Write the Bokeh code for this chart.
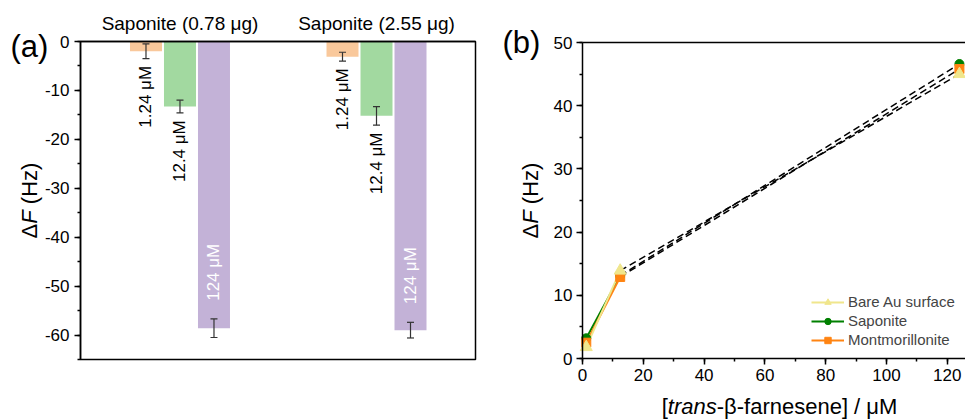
import math
from bokeh.plotting import figure
from bokeh.layouts import row
from bokeh.models import (Range1d, LinearAxis, SingleIntervalTicker, FixedTicker,
                          PrintfTickFormatter, ColumnDataSource, Whisker, TeeHead,
                          Label, Legend, LegendItem)
from bokeh.core.properties import value
from bokeh.embed import file_html
from bokeh.resources import INLINE

FONT = "Liberation Sans"

# ---------------- data: panel (a) ----------------
groups = ["Saponite (0.78 μg)", "Saponite (2.55 μg)"]
conc_labels = ["1.24 μM", "12.4 μM", "124 μM"]
bar_colors = ["#F9C89B", "#A2D9A0", "#C3B2D7"]
df_sap_078 = [-2.0, -13.3, -58.6]
err_sap_078 = [1.5, 1.3, 1.9]
df_sap_255 = [-3.1, -15.2, -59.0]
err_sap_255 = [0.9, 1.9, 1.6]

# ---------------- data: panel (b) ----------------
conc_uM = [1.24, 12.4, 124]
df_bare = [1.8, 13.9, 45.0]
df_sap = [3.2, 13.1, 46.6]
df_mont = [2.5, 12.9, 45.8]
series_names = ["Bare Au surface", "Saponite", "Montmorillonite"]
series_colors = ["#F0E68C", "#008000", "#FF8412"]
series_markers = ["triangle", "circle", "square"]
series_sizes = [12, 9, 9]

# ---------------- layout constants ----------------
P1_W, P1_H = 490, 420
P1_L, P1_R, P1_T, P1_B = 80, 15, 41, 61          # where the drawn frame sits
F1_W, F1_H = P1_W - P1_L - P1_R, P1_H - P1_T - P1_B
UNIT_PX = 34.0
X1S = -1.926
X1E = X1S + F1_W / UNIT_PX
Y1S, Y1E = -65, 0
PPY1 = F1_H / (Y1E - Y1S)
GROUP_STEP = 5.78
BAR_W = 32 / UNIT_PX
X1_LO, X1_HI = X1S - P1_L / UNIT_PX, X1E + P1_R / UNIT_PX
Y1_LO, Y1_HI = Y1S - P1_B / PPY1, Y1E + P1_T / PPY1

P2_W, P2_H = 475, 420
P2_L, P2_R, P2_T, P2_B = 92, 0, 42, 62
F2_W, F2_H = P2_W - P2_L - P2_R, P2_H - P2_T - P2_B
X2S, X2E = 0, 126
Y2S, Y2E = 0, 50
PPX2 = F2_W / (X2E - X2S)
PPY2 = F2_H / (Y2E - Y2S)
X2_LO, X2_HI = X2S - P2_L / PPX2, X2E + P2_R / PPX2
Y2_LO, Y2_HI = Y2S - P2_B / PPY2, Y2E + P2_T / PPY2


def d1(px, py):
    return X1_LO + px / UNIT_PX, Y1_HI - py / PPY1


def d2(px, py):
    return X2_LO + (px - P1_W) / PPX2, Y2_HI - py / PPY2


ADV = {' ': 278, '(': 333, ')': 333, '[': 278, ']': 278, '-': 333, '/': 278,
       'H': 722, 'z': 500, 'Δ': 668, 'F': 611, 'f': 278, 'a': 556, 'r': 333,
       'n': 556, 'e': 556, 's': 500, 'β': 574, 'μ': 576, 'M': 833, 't': 278}


def tw(s, size):
    return sum(ADV.get(ch, 556) for ch in s) / 1000.0 * size


def composite(p, segs, cx, cy, size, conv, vertical=False):
    total = sum(tw(t, size) for t, _ in segs)
    pos = -total / 2
    for t, style in segs:
        lead = len(t) - len(t.lstrip(' '))
        start = pos + tw(' ' * lead, size)
        if vertical:
            x, y = conv(cx, cy - start)
            ang = math.pi / 2
        else:
            x, y = conv(cx + start, cy)
            ang = 0
        p.add_layout(Label(x=x, y=y, x_units="data", y_units="data", text=t.strip(' '),
                           angle=ang, text_align="left", text_baseline="middle",
                           text_font=FONT, text_font_size=f"{size}px",
                           text_font_style=style, text_color="black"))
        pos += tw(t, size)


def style_axis(ax, size="17px"):
    ax.axis_line_color = "black"
    ax.axis_line_width = 1.5
    ax.major_tick_line_color = "black"
    ax.major_tick_line_width = 1.5
    ax.minor_tick_line_color = "black"
    ax.minor_tick_line_width = 1.5
    ax.major_tick_in = 0
    ax.major_tick_out = 6
    ax.minor_tick_in = 0
    ax.minor_tick_out = 3
    ax.major_label_text_font = FONT
    ax.major_label_text_font_size = size
    ax.major_label_text_color = "black"


def base_fig(w, h, xr, yr):
    p = figure(width=w, height=h, output_backend="svg", toolbar_location=None,
               x_range=xr, y_range=yr, x_axis_location=None, y_axis_location=None,
               min_border_left=0, min_border_right=0, min_border_top=0,
               min_border_bottom=0)
    p.grid.visible = False
    p.outline_line_color = None
    p.background_fill_color = "white"
    p.border_fill_color = "white"
    return p


# ======================= panel (a) =======================
p1 = base_fig(P1_W, P1_H, Range1d(X1_LO, X1_HI), Range1d(Y1_LO, Y1_HI))

vals_a = [df_sap_078, df_sap_255]
errs_a = [err_sap_078, err_sap_255]
xs, tops, cols, ups, los = [], [], [], [], []
lab_x, lab_y, lab_t = [], [], []
in_x, in_y, in_t = [], [], []
for gi in range(len(groups)):
    for bi in range(len(conc_labels)):
        x = gi * GROUP_STEP + bi
        v, e = vals_a[gi][bi], errs_a[gi][bi]
        xs.append(x); tops.append(v); cols.append(bar_colors[bi])
        ups.append(v + e); los.append(v - e)
        if bi < 2:
            lab_x.append(x); lab_y.append(v - e - 1.5); lab_t.append(conc_labels[bi])
        else:
            in_x.append(x); in_y.append(v + e + 3.7); in_t.append(conc_labels[bi])

src_bars = ColumnDataSource(dict(x=xs, top=tops, color=cols, upper=ups, lower=los))
p1.vbar(x="x", top="top", bottom=0, width=BAR_W, fill_color="color",
        line_color=None, source=src_bars)
p1.add_layout(Whisker(base="x", upper="upper", lower="lower", source=src_bars,
                      level="overlay", line_color="#333333", line_width=1.2,
                      upper_head=TeeHead(size=7, line_color="#333333", line_width=1.2),
                      lower_head=TeeHead(size=7, line_color="#333333", line_width=1.2)))

p1.text(x=lab_x, y=lab_y, text=lab_t, angle=math.pi / 2, text_align="right",
        text_baseline="middle", text_color="black", text_font=value(FONT),
        text_font_size="17px")
p1.text(x=in_x, y=in_y, text=in_t, angle=math.pi / 2, text_align="left",
        text_baseline="middle", text_color="white", text_font=value(FONT),
        text_font_size="17px")

# frame box of panel (a)
p1.quad(left=[X1S], right=[X1E], bottom=[Y1S], top=[Y1E], fill_color=None,
        line_color="black", line_width=1.5)

ya = LinearAxis(fixed_location=X1S, bounds=(Y1S, Y1E),
                ticker=SingleIntervalTicker(interval=10, num_minor_ticks=2),
                formatter=PrintfTickFormatter(format="%d"))
style_axis(ya)
ya.major_label_standoff = 5
p1.add_layout(ya, "left")

gcenters = [gi * GROUP_STEP + 1.0 for gi in range(len(groups))]
top_ax = LinearAxis(fixed_location=Y1E, bounds=(X1S, X1E),
                    ticker=FixedTicker(ticks=gcenters),
                    major_label_overrides={c: g for c, g in zip(gcenters, groups)})
style_axis(top_ax, "19px")
top_ax.major_tick_out = 0
top_ax.minor_tick_out = 0
top_ax.major_label_standoff = 8
p1.add_layout(top_ax, "above")

composite(p1, [("Δ", "normal"), ("F", "italic"), (" (Hz)", "normal")],
          28.5, 200, 22, d1, vertical=True)
xa, ya_ = d1(10, 46)
p1.add_layout(Label(x=xa, y=ya_, text="(a)", text_align="left", text_baseline="middle",
                    text_font=FONT, text_font_size="31px", text_color="black"))

# ======================= panel (b) =======================
p2 = base_fig(P2_W, P2_H, Range1d(X2_LO, X2_HI), Range1d(Y2_LO, Y2_HI))

vals_b = [df_bare, df_sap, df_mont]
order = [1, 2, 0]
for i in order:
    p2.line(conc_uM[1:], vals_b[i][1:], line_color="black", line_width=1.5,
            line_dash="7 4")
solid_r, mark_r = {}, {}
for i in order:
    solid_r[i] = p2.line(conc_uM[:2], vals_b[i][:2], line_color=series_colors[i],
                         line_width=2)
for i in order:
    mark_r[i] = p2.scatter(conc_uM, vals_b[i], marker=series_markers[i],
                           size=series_sizes[i], fill_color=series_colors[i],
                           line_color=series_colors[i])

xb = LinearAxis(fixed_location=Y2S, bounds=(X2S, X2E),
                ticker=SingleIntervalTicker(interval=20, num_minor_ticks=2))
style_axis(xb)
xb.major_label_standoff = 4
p2.add_layout(xb, "below")
yb = LinearAxis(fixed_location=X2S, bounds=(Y2S, Y2E),
                ticker=SingleIntervalTicker(interval=10, num_minor_ticks=2))
style_axis(yb)
yb.major_label_standoff = 4
p2.add_layout(yb, "left")
top_b = LinearAxis(fixed_location=Y2E, bounds=(X2S, X2E), ticker=FixedTicker(ticks=[]))
style_axis(top_b)
top_b.major_label_text_font_size = "0px"
p2.add_layout(top_b, "above")

legend = Legend(items=[LegendItem(label=series_names[i], renderers=[solid_r[i], mark_r[i]])
                       for i in range(3)],
                location=(321, 72), border_line_color=None,
                background_fill_alpha=0, label_text_font=FONT,
                label_text_font_size="15px", glyph_width=33, glyph_height=16,
                label_height=16, label_standoff=4, spacing=2, padding=0, margin=0)
p2.add_layout(legend)

composite(p2, [("Δ", "normal"), ("F", "italic"), (" (Hz)", "normal")],
          530, 200, 22, d2, vertical=True)
composite(p2, [("[", "normal"), ("trans", "italic"), ("-β-farnesene] / μM", "normal")],
          779, 406, 22, d2)
xbl, ybl = d2(502, 42)
p2.add_layout(Label(x=xbl, y=ybl, text="(b)", text_align="left", text_baseline="middle",
                    text_font=FONT, text_font_size="31px", text_color="black"))

layout = row(p1, p2)
open("out.html", "w").write(file_html(layout, INLINE))
